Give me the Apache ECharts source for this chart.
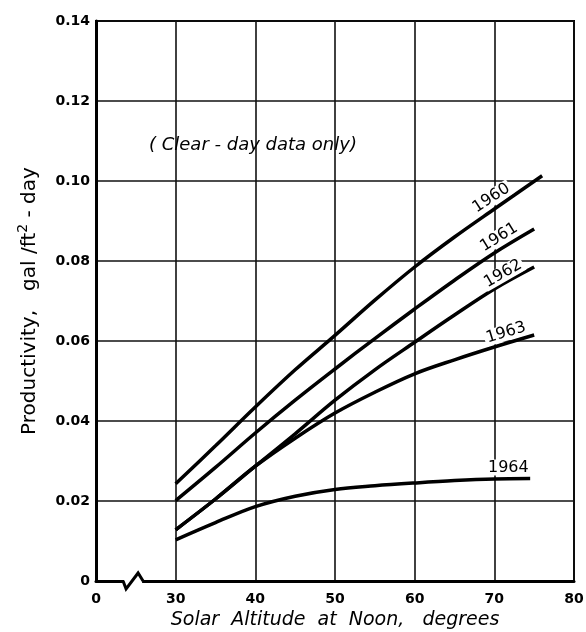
<!DOCTYPE html>
<html>
<head>
<meta charset="utf-8">
<script src="https://cdn.jsdelivr.net/npm/echarts@6/dist/echarts.min.js"></script>
<style>
html,body{margin:0;padding:0;background:#fff;}
#c{width:586px;height:632px;}
</style>
</head>
<body>
<div id="c"></div>
<script>
// ---- data ----
const x1960 = [30, 35, 40, 45, 50, 55, 60, 65, 70, 76];
const y1960 = [0.0243, 0.0338, 0.0435, 0.0528, 0.0614, 0.0702, 0.0785, 0.0860, 0.0930, 0.1013];
const x1961 = [30, 35, 40, 45, 50, 55, 60, 65, 70, 75];
const y1961 = [0.0201, 0.0284, 0.0370, 0.0452, 0.0530, 0.0606, 0.0680, 0.0752, 0.0820, 0.0880];
const x1962 = [30, 35, 40, 45, 50, 55, 60, 65, 70, 75];
const y1962 = [0.0128, 0.0205, 0.0287, 0.0368, 0.0452, 0.0528, 0.0597, 0.0665, 0.0730, 0.0785];
const x1963 = [30, 35, 40, 45, 50, 55, 60, 65, 70, 75];
const y1963 = [0.0128, 0.0205, 0.0287, 0.0357, 0.0420, 0.0472, 0.0518, 0.0553, 0.0585, 0.0615];
const x1964 = [30, 35, 40, 45, 50, 55, 60, 65, 70, 74.5];
const y1964 = [0.0103, 0.0146, 0.0186, 0.0212, 0.0229, 0.0238, 0.0245, 0.0251, 0.0255, 0.0256];
const seriesNames = ['1960', '1961', '1962', '1963', '1964'];
const xTickLabels = {20: '0', 30: '30', 40: '40', 50: '50', 60: '60', 70: '70', 80: '80'};
const yTickLabels = ['0', '0.02', '0.04', '0.06', '0.08', '0.10', '0.12', '0.14'];
const xTitle = 'Solar  Altitude  at  Noon,   degrees';
const yTitleA = 'Productivity,   gal /ft';
const yTitleSup = '2';
const yTitleB = ' - day';
const note = '( Clear - day data only)';

// label placement (which point carries the label, rotation, screen shift)
const labelCfg = {
  '1960': {idx: 8, rot: 33, dx: 1, dy: 1},
  '1961': {idx: 8, rot: 32, dx: 10, dy: 1},
  '1962': {idx: 8, rot: 30, dx: 13, dy: 3},
  '1963': {idx: 8, rot: 17, dx: 14, dy: 2},
  '1964': {idx: 8, rot: 0, dx: 14, dy: 1}
};

const FONT = '"DejaVu Sans", "Noto Sans", sans-serif';
const xs = [x1960, x1961, x1962, x1963, x1964];
const ys = [y1960, y1961, y1962, y1963, y1964];

const series = seriesNames.map((name, s) => {
  const cfg = labelCfg[name];
  const data = xs[s].map((x, i) => {
    const item = {value: [x, ys[s][i]]};
    if (i === cfg.idx) {
      item.label = {
        show: true, formatter: name, position: 'top', distance: 4, rotate: cfg.rot,
        color: '#000', fontFamily: FONT, fontSize: 16,
        backgroundColor: '#fff', padding: [0, 2, 0, 2]
      };
    }
    return item;
  });
  return {
    name, type: 'line', data, smooth: 0.35, showSymbol: true, symbol: 'circle', symbolSize: 1,
    itemStyle: {color: 'rgba(0,0,0,0)'},
    lineStyle: {color: '#000', width: 3.5}, z: 3,
    labelLayout: {hideOverlap: false, dx: cfg.dx, dy: cfg.dy}
  };
});

const chart = echarts.init(document.getElementById('c'), null, {renderer: 'canvas'});
chart.setOption({
  backgroundColor: '#fff',
  animation: false,
  grid: {left: 96, right: 12, top: 21, bottom: 51, containLabel: false, outerBoundsMode: 'none',
    show: true, borderColor: '#000', borderWidth: 2, backgroundColor: 'transparent'},
  xAxis: {
    type: 'value', min: 20, max: 80, interval: 10,
    name: xTitle, nameLocation: 'middle', nameGap: 27,
    nameTextStyle: {color: '#000', fontFamily: FONT, fontSize: 19, fontStyle: 'italic'},
    axisLine: {show: true, lineStyle: {color: '#000', width: 3}},
    axisTick: {show: false},
    axisLabel: {color: '#000', fontFamily: FONT, fontSize: 14, fontWeight: 'bold', margin: 11,
      formatter: v => xTickLabels[v] !== undefined ? xTickLabels[v] : ''},
    splitLine: {show: true, lineStyle: {color: '#111', width: 1.6}}
  },
  yAxis: {
    type: 'value', min: 0, max: 0.14, interval: 0.02,
    name: '{a|' + yTitleA + '}{s|' + yTitleSup + '}{a|' + yTitleB + '}',
    nameLocation: 'middle', nameGap: 56,
    nameTextStyle: {color: '#000', fontFamily: FONT, fontSize: 20,
      rich: {a: {fontFamily: FONT, fontSize: 20, color: '#000', verticalAlign: 'bottom', lineHeight: 24},
             s: {fontFamily: FONT, fontSize: 14, color: '#000', verticalAlign: 'top', lineHeight: 24, padding: [0, 0, 9, 0]}}},
    axisLine: {show: true, lineStyle: {color: '#000', width: 3}},
    axisTick: {show: false},
    axisLabel: {color: '#000', fontFamily: FONT, fontSize: 14, fontWeight: 'bold', margin: 6,
      formatter: v => yTickLabels[Math.round(v / 0.02)]},
    splitLine: {show: true, lineStyle: {color: '#111', width: 1.6}}
  },
  series
});

// decorations: axis-break squiggle and note text, positioned via the axes
const p0 = chart.convertToPixel({gridIndex: 0}, [23.4, 0]);
const pn = chart.convertToPixel({gridIndex: 0}, [39.7, 0.109]);
chart.setOption({
  graphic: [
    {type: 'rect', shape: {x: p0[0] + 1, y: p0[1] - 3, width: 18, height: 6}, style: {fill: '#fff'}, z: 10},
    {type: 'polyline', shape: {points: [[p0[0], p0[1]], [p0[0] + 3, p0[1] + 8], [p0[0] + 15, p0[1] - 8], [p0[0] + 20, p0[1]]]},
      style: {stroke: '#000', lineWidth: 3, fill: null}, z: 11},
    {type: 'text', x: pn[0], y: pn[1], style: {text: note, fill: '#000', font: 'italic 18px ' + FONT, textAlign: 'center', textVerticalAlign: 'middle'}, z: 11}
  ]
});
</script>
</body>
</html>
